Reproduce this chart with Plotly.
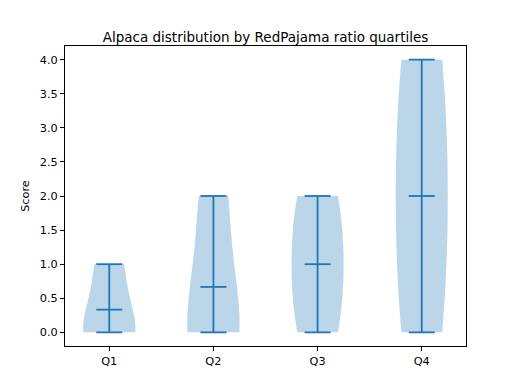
import numpy as np
import plotly.graph_objects as go

# scores per RedPajama ratio quartile
quartiles = ["Q1", "Q2", "Q3", "Q4"]
q1_scores = [0, 0, 1]
q2_scores = [0, 0, 2]
q3_scores = [0, 1, 2]
q4_scores = [0, 2, 4]
groups = [q1_scores, q2_scores, q3_scores, q4_scores]
positions = [1, 2, 3, 4]

blue = "#1f77b4"
fig = go.Figure()

for pos, scores in zip(positions, groups):
  arr = np.array(scores, dtype=float)
  # Scott bandwidth like matplotlib's gaussian_kde
  bw = arr.std(ddof=1) * len(arr) ** (-1 / 5)
  fig.add_trace(go.Violin(x=[pos] * len(arr), y=arr, width=0.5, bandwidth=bw, spanmode="hard",
                          scalemode="width", fillcolor="rgba(31,119,180,0.3)", line=dict(width=0, color="rgba(0,0,0,0)"),
                          points=False, hoverinfo="skip", showlegend=False, box_visible=False, meanline_visible=False))
  # extrema + mean bars
  lo, hi, mean = arr.min(), arr.max(), arr.mean()
  fig.add_trace(go.Scatter(x=[pos, pos], y=[lo, hi], mode="lines", line=dict(color=blue, width=1.8), showlegend=False))
  for yv in [lo, hi, mean]:
    fig.add_trace(go.Scatter(x=[pos - 0.125, pos + 0.125], y=[yv, yv], mode="lines", line=dict(color=blue, width=1.8), showlegend=False))

axis_style = dict(showgrid=False, zeroline=False, showline=True, linecolor="black", linewidth=0.9, mirror=True,
                  ticks="outside", ticklen=4, tickwidth=0.9, tickcolor="black",
                  tickfont=dict(family="DejaVu Sans", size=11.3, color="black"))

# page body has an 8px margin, so the figure is a bit smaller than the window
fig.update_layout(
  width=510, height=381,
  margin=dict(l=57, r=52, t=38, b=43),
  plot_bgcolor="white", paper_bgcolor="white",
  title=dict(text="Alpaca distribution by RedPajama ratio quartiles", x=(57 + 200.5) / 510, xanchor="center",
             y=1 - 29 / 381, yanchor="middle", font=dict(family="DejaVu Sans", size=13.5, color="black")),
  xaxis=dict(range=[0.575, 4.425], tickmode="array", tickvals=positions, ticktext=quartiles, **axis_style),
  yaxis=dict(range=[-0.2, 4.2], tickmode="array", tickvals=[0, 0.5, 1, 1.5, 2, 2.5, 3, 3.5, 4],
             ticktext=["0.0", "0.5", "1.0", "1.5", "2.0", "2.5", "3.0", "3.5", "4.0"],
             title=dict(text="Score", font=dict(family="DejaVu Sans", size=11.3, color="black"), standoff=7), **axis_style),
  violinmode="overlay",
)

fig.write_html("out.html")
